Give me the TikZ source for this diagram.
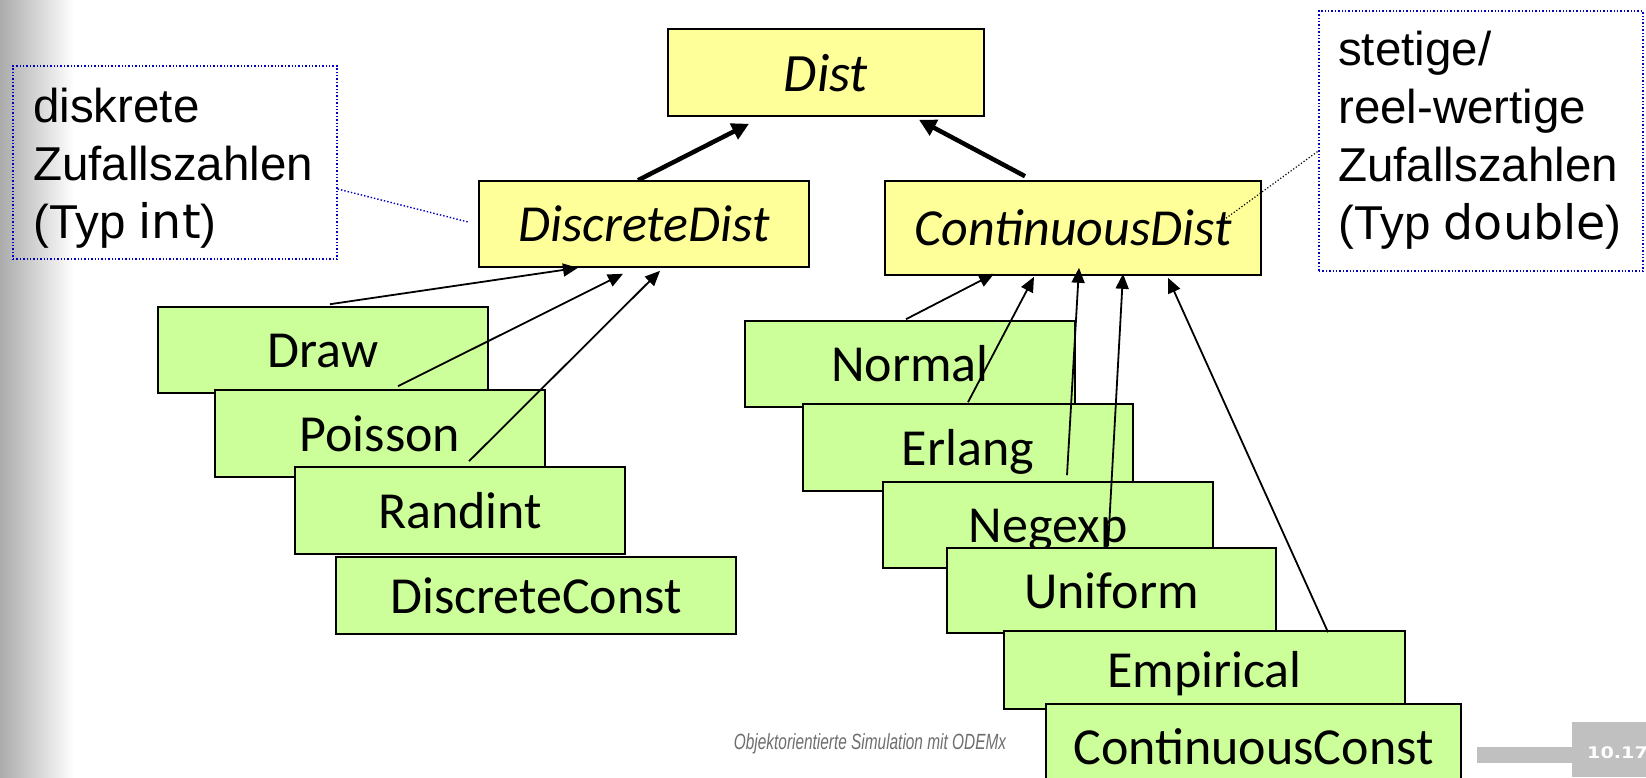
\documentclass[tikz,border=0pt]{standalone}
\usepackage{fontspec}
\usepackage{graphicx}
\setmainfont{Carlito}
\newfontfamily\callfont{Liberation Sans}
\newfontfamily\codefont{DejaVu Sans}
\usetikzlibrary{arrows.meta,calc}

\definecolor{absfill}{RGB}{255,255,153}
\definecolor{concfill}{RGB}{204,255,153}
\definecolor{notecol}{RGB}{0,0,190}
\definecolor{footgray}{RGB}{110,110,110}
\definecolor{bargray}{RGB}{192,192,192}

\tikzset{
  absbox/.style={draw=black, line width=1.6pt, fill=absfill, inner sep=0pt,
    font=\fontsize{52}{60}\selectfont\itshape, text height=35pt, text depth=0pt},
  concbox/.style={draw=black, line width=1.6pt, fill=concfill, inner sep=0pt,
    font=\fontsize{52}{60}\selectfont, text height=35pt, text depth=0pt},
  notebox/.style={draw=notecol, line width=1.4pt, dotted, inner sep=0pt},
  notetext/.style={font=\callfont\fontsize{47.5}{58}\selectfont, align=left,
    inner sep=0pt, anchor=north west},
  inherit/.style={line width=1.8pt, -{Triangle[length=15pt,width=13pt]}},
  inheritthick/.style={line width=4.5pt, -{Triangle[length=17pt,width=17pt]}},
}

\begin{document}
\begin{tikzpicture}[x=1pt,y=-1pt]
  \useasboundingbox (0,0) rectangle (1646,777);
  \clip (0,0) rectangle (1646,777);

  % slide background: grey band fading into white on the left
  \fill[white] (0,0) rectangle (1646,777);
  \shade[left color=black!33, right color=white] (0,0) rectangle (74,777);

  % abstract classes
  \node[absbox, minimum width=316pt, minimum height=87pt, font=\fontsize{54}{60}\selectfont\itshape, text height=37pt]
    (dist) at (826,72.5) {Dist};
  \node[absbox, minimum width=330pt, minimum height=86pt] (ddist) at (644,224) {DiscreteDist};
  \node[absbox, minimum width=376pt, minimum height=94pt] (cdist) at (1073,228) {ContinuousDist};

  % discrete distributions
  \node[concbox, minimum width=330pt, minimum height=86pt] (draw) at (323,350) {Draw};
  \node[concbox, minimum width=330pt, minimum height=87pt] (poisson) at (380,433.5) {Poisson};
  \node[concbox, minimum width=330pt, minimum height=87pt] (randint) at (460,510.5) {Randint};
  \node[concbox, minimum width=400pt, minimum height=77pt] (dconst) at (536,595.5) {DiscreteConst};

  % continuous distributions
  \node[concbox, minimum width=330pt, minimum height=86pt] (normal) at (910,364) {Normal};
  \node[concbox, minimum width=330pt, minimum height=87pt] (erlang) at (968,447.5) {Erlang};
  \node[concbox, minimum width=330pt, minimum height=86pt] (negexp) at (1048,525) {Negexp};
  \node[concbox, minimum width=329pt, minimum height=85pt] (uniform) at (1111.5,590.5) {Uniform};
  \node[concbox, minimum width=401pt, minimum height=78pt] (empirical) at (1204.5,670) {Empirical};
  \node[concbox, minimum width=415pt, minimum height=86pt] (cconst) at (1253.5,747) {ContinuousConst};

  % generalisation arrows
  \draw[inheritthick] ([xshift=-6pt]ddist.north) -- ([xshift=-77pt,yshift=-7pt]dist.south);
  \draw[inheritthick] ([xshift=-48pt,yshift=4pt]cdist.north) -- ([xshift=93pt,yshift=-3pt]dist.south);

  \draw[inherit] ([xshift=7pt,yshift=2pt]draw.north) -- ([xshift=-66pt]ddist.south);
  \draw[inherit] ([xshift=18pt,yshift=3pt]poisson.north) -- ([xshift=-21pt,yshift=-6pt]ddist.south);
  \draw[inherit] ([xshift=9pt,yshift=5pt]randint.north) -- ([xshift=16pt,yshift=-3pt]ddist.south);

  \draw[inherit] ([xshift=-4pt,yshift=1pt]normal.north) -- ([xshift=-79pt,yshift=2pt]cdist.south);
  \draw[inherit] ([yshift=1pt]erlang.north) -- ([xshift=-39pt,yshift=-1pt]cdist.south);
  \draw[inherit] ([xshift=19pt,yshift=6pt]negexp.north) -- ([xshift=6pt,yshift=8pt]cdist.south);
  \draw[inherit] ([xshift=-3.5pt,yshift=1pt]uniform.north) -- ([xshift=50pt,yshift=2pt]cdist.south);
  \draw[inherit] ([xshift=123.5pt,yshift=-2pt]empirical.north) -- ([xshift=95pt,yshift=-2pt]cdist.south);

  % notes
  \node[notebox, minimum width=324pt, minimum height=193pt] (noteL) at (175,162.5) {};
  \node[notetext] (noteLtext) at (33,87.5)
    {diskrete\\Zufallszahlen\\(Typ {\codefont int})};
  \draw[notecol, line width=1.4pt, dotted] ([yshift=-26.5pt]noteL.east) -- ([xshift=-10pt,yshift=2pt]ddist.west);

  \node[notebox, minimum width=324pt, minimum height=260pt] (noteR) at (1481,141) {};
  \node[notetext] (noteRtext) at (1338,30.5)
    {stetige/\\reel-wertige\\Zufallszahlen\\(Typ {\codefont double})};
  \draw[black, line width=1.2pt, dotted] ([xshift=-41pt,yshift=6pt]cdist.east) -- ([yshift=-10pt]noteR.west);

  % footer
  \node[anchor=base, text=footgray, inner sep=0pt] (footer) at (870,749)
    {\scalebox{0.7}[1]{\callfont\fontsize{22}{22}\selectfont\itshape Objektorientierte Simulation mit ODEMx}};
  \fill[bargray] (1477,747) rectangle (1573,763);
  \fill[bargray] (1572,722) rectangle (1646,777);
  \node[anchor=base west, text=white, inner sep=0pt] (pageno) at (1587,758)
    {\scalebox{1.2}[1]{\codefont\fontsize{16}{16}\selectfont\bfseries 10.17}};
\end{tikzpicture}
\end{document}
